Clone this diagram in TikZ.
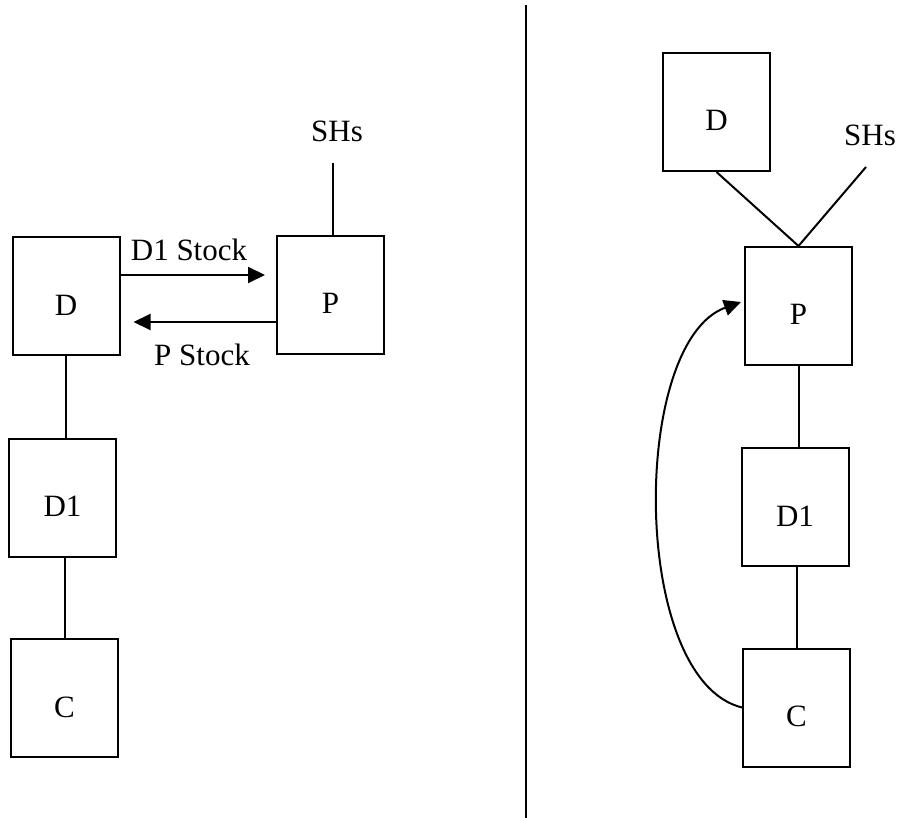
\documentclass[tikz,border=0pt]{standalone}
\usepackage{fontspec}
\setmainfont{Liberation Serif}
\usetikzlibrary{arrows.meta}

\begin{document}
\begin{tikzpicture}[x=1pt,y=-1pt,line width=2pt,
        box/.style={draw,minimum width=107pt,minimum height=118pt,inner sep=0pt,
            text height=40pt,text depth=2pt,font=\fontsize{31}{37}\selectfont},
        lbl/.style={inner sep=0pt,font=\fontsize{31}{37}\selectfont},
        tip/.style={-{Triangle[length=17pt,width=16pt]}}]
        \useasboundingbox (0,0) rectangle (898,818);
        \draw (526,5)--(526,818);
        % left
        \node[box] (lD) at (66,296.5) {D};
        \node[box] (lP) at (330.5,295) {P};
        \node[box] (lD1) at (62.5,498) {D1};
        \node[box] (lC) at (64.5,698) {C};
        \node[lbl] (lSHs) at (337,131) {SHs};
        \coordinate (lS) at (333,163);
        \draw (lS)--(lS |- lP.north);
        \draw[tip] ([yshift=21.5pt]lD.east)--([xshift=-11pt,yshift=20pt]lP.west);
        \draw[tip] ([yshift=-27pt]lP.west)--([xshift=13pt,yshift=-25.5pt]lD.east);
        \node[lbl] (lD1Stock) at (189,250) {D1 Stock};
        \node[lbl] (lPStock) at (202,355) {P Stock};
        \draw (lD.south)--(lD.south |- lD1.north);
        \draw (lC.north)--(lC.north |- lD1.south);
        % right
        \node[box] (rD) at (716.5,112) {D};
        \node[box] (rP) at (798.5,306) {P};
        \node[box] (rD1) at (795,507) {D1};
        \node[box] (rC) at (796.5,707.5) {C};
        \node[lbl] (rSHs) at (870,135) {SHs};
        \coordinate (rS) at (866,167);
        \draw (rD.south)--(rP.north);
        \draw (rS)--(rP.north);
        \draw (rP.south)--(rP.south |- rD1.north);
        \draw (rC.north)--(rC.north |- rD1.south);
        \draw[tip] (rC.west) .. controls (630,680) and (630,342) .. ([xshift=-3pt,yshift=4pt]rP.west);
\end{tikzpicture}
\end{document}
